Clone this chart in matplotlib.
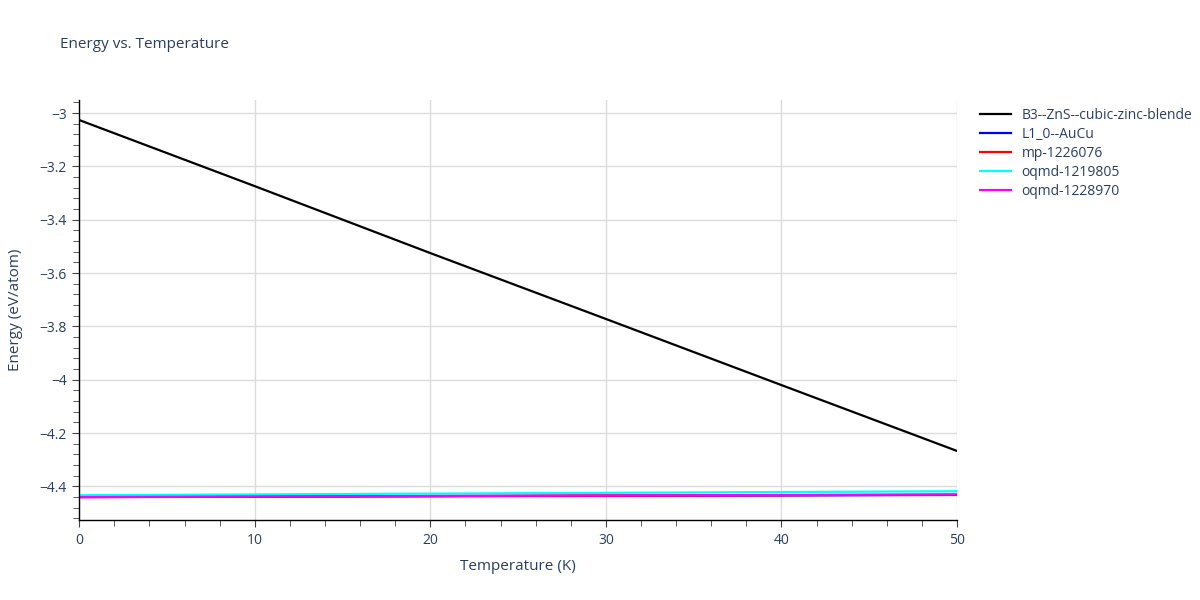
import numpy as np
import matplotlib.pyplot as plt
from matplotlib.ticker import MultipleLocator

temperature = [0, 10, 20, 30, 40, 50]
b3_zns = [-3.026, -3.274, -3.525, -3.772, -4.020, -4.267]
l10_aucu = [-4.440, -4.439, -4.437, -4.435, -4.434, -4.432]
mp_1226076 = [-4.440, -4.438, -4.436, -4.434, -4.433, -4.431]
oqmd_1219805 = [-4.433, -4.430, -4.427, -4.424, -4.421, -4.418]
oqmd_1228970 = [-4.440, -4.438, -4.436, -4.434, -4.432, -4.430]

names = ['B3--ZnS--cubic-zinc-blende', 'L1_0--AuCu', 'mp-1226076',
         'oqmd-1219805', 'oqmd-1228970']
series = [b3_zns, l10_aucu, mp_1226076, oqmd_1219805, oqmd_1228970]
colors = ['black', 'blue', 'red', 'cyan', 'magenta']

txt = '#2a3f5f'
plt.rcParams['font.family'] = ['Open Sans', 'DejaVu Sans']

fig = plt.figure(figsize=(12, 6), dpi=100)
ax = fig.add_axes([0.066, 0.1333, 0.7315, 0.7])

for s, c, n in zip(series, colors, names):
    ax.plot(temperature, s, color=c, lw=1.6, label=n)

ax.set_xlim(0, 50)
ax.set_ylim(-4.526, -2.951)
ax.xaxis.set_major_locator(MultipleLocator(10))
ax.xaxis.set_minor_locator(MultipleLocator(2))
ax.yaxis.set_major_locator(MultipleLocator(0.2))
ax.yaxis.set_minor_locator(MultipleLocator(0.04))
ax.grid(True, which='major', color='#dcdcdc', lw=1)
ax.set_axisbelow(True)

for side in ['top', 'right']:
    ax.spines[side].set_visible(False)
for side in ['left', 'bottom']:
    ax.spines[side].set_color('black')
    ax.spines[side].set_linewidth(1)

ax.tick_params(which='major', length=5, color='#444444', labelcolor=txt, labelsize=10, pad=4)
ax.tick_params(which='minor', length=4, color='#444444')

ax.yaxis.set_major_formatter(plt.FuncFormatter(
    lambda v, p: ('%g' % round(v, 2)).replace('-', '\u2212')))

ax.set_xlabel('Temperature (K)', color=txt, fontsize=11, labelpad=8)
ax.set_ylabel('Energy (eV/atom)', color=txt, fontsize=11, labelpad=12)
fig.text(0.05, 0.925, 'Energy vs. Temperature', color=txt, fontsize=11, va='center')

fig.legend(loc='upper left', bbox_to_anchor=(0.812, 0.83), frameon=False,
           fontsize=10, labelcolor=txt, handlelength=2.2, labelspacing=0.3,
           borderaxespad=0)

fig.savefig('out.png')
